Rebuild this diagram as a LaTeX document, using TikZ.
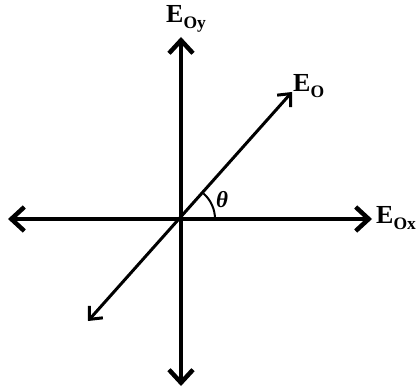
\documentclass[tikz,border=0pt]{standalone}
\usepackage{fontspec}
\setmainfont{Liberation Serif}
\usetikzlibrary{arrows.meta}
\tikzset{
  axis/.style={line width=4.5pt,{Straight Barb[length=13pt,width=24pt]}-{Straight Barb[length=13pt,width=24pt]}},
  diag/.style={line width=3pt,{Straight Barb[length=10pt,width=18pt]}-{Straight Barb[length=10pt,width=18pt]}},
  lab/.style={anchor=base west,inner sep=0pt,font=\fontsize{26}{26}\selectfont\bfseries}
}
\newcommand{\lbsub}[1]{\raisebox{-5.5pt}{\fontsize{17.5}{17.5}\selectfont #1}}
\begin{document}
\begin{tikzpicture}[x=1pt,y=1pt]
\useasboundingbox (0,0) rectangle (417,391);
\coordinate (O) at (181,172);
\coordinate (L) at (8,172);
\coordinate (R) at (372,172);
\coordinate (T) at (181,354);
\coordinate (B) at (181,5);
\coordinate (D1) at (292,299);
\coordinate (D2) at (88,70);
\draw[axis] (L) -- (R);
\draw[axis] (B) -- (T);
\draw[diag] (D2) -- (D1);
\draw[line width=2pt] (O) ++(34,0) arc[start angle=0,end angle=48.6,radius=34];
\node[font=\fontsize{23}{23}\selectfont\bfseries\itshape,inner sep=0pt] (th) at (222,191) {θ};
\node[lab] (ey) at (166,368) {E\lbsub{Oy}};
\node[lab] (eo) at (293,299) {E\lbsub{O}};
\node[lab] (ex) at (376,167) {E\lbsub{Ox}};
\end{tikzpicture}
\end{document}
